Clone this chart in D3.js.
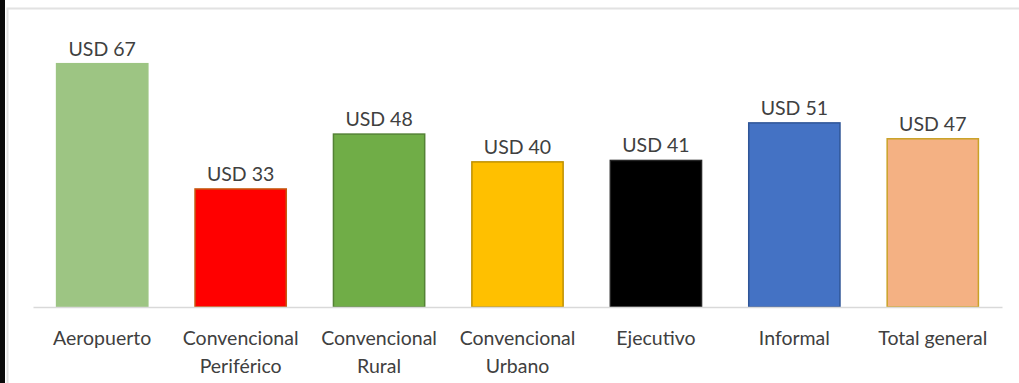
<!DOCTYPE html>
<html>
<head>
<meta charset="utf-8">
<script src="https://cdn.jsdelivr.net/npm/d3@7"></script>
<style>
  html, body { margin: 0; padding: 0; background: #fff; }
  svg { display: block; }
  text { font-family: Lato, "Open Sans", sans-serif; fill: #404040; }
</style>
</head>
<body>
<div id="chart"></div>
<script>
const categories = ['Aeropuerto', 'Convencional Periférico', 'Convencional Rural', 'Convencional Urbano', 'Ejecutivo', 'Informal', 'Total general'];
const values = [67.4, 32.7, 47.9, 40.2, 40.6, 51.0, 46.6];
const fills = ['#9DC583', '#FF0000', '#70AD47', '#FFC000', '#000000', '#4472C4', '#F4B183'];
const strokes = ['#9DC583', '#C55A11', '#548235', '#BF9000', '#262626', '#2F5597', '#C9A227'];

const width = 1019;
const height = 383;
const margin = { left: 33, right: 17, baseline: 307 };
const fontSize = '19.5px';

const svg = d3.select('#chart')
  .append('svg')
  .attr('width', width)
  .attr('height', height);

// left dark edge and chart frame
svg.append('rect')
  .attr('x', 0).attr('y', 0)
  .attr('width', 5).attr('height', height)
  .attr('fill', '#0a0a0a');

svg.append('rect')
  .attr('x', 7.5).attr('y', 8.5)
  .attr('width', width + 20).attr('height', height + 20)
  .attr('fill', 'none')
  .attr('stroke', '#e2e2e2')
  .attr('stroke-width', 2);

const xScale = d3.scaleBand()
  .domain(categories)
  .range([margin.left, width - margin.right])
  .paddingInner(0.33)
  .paddingOuter(0.165);

const yScale = d3.scaleLinear()
  .domain([0, 70])
  .range([margin.baseline, margin.baseline - 70 * 3.61]);

const data = categories.map((c, i) => ({ name: c, value: values[i], fill: fills[i], stroke: strokes[i] }));

svg.selectAll('.bar')
  .data(data)
  .enter()
  .append('rect')
  .attr('class', 'bar')
  .attr('x', d => xScale(d.name) + 0.75)
  .attr('y', d => yScale(d.value))
  .attr('width', xScale.bandwidth() - 1.5)
  .attr('height', d => yScale(0) - yScale(d.value))
  .attr('fill', d => d.fill)
  .attr('stroke', d => d.stroke)
  .attr('stroke-width', 1.5);

svg.selectAll('.label')
  .data(data)
  .enter()
  .append('text')
  .attr('class', 'label')
  .attr('x', d => xScale(d.name) + xScale.bandwidth() / 2)
  .attr('y', d => yScale(d.value) - 8)
  .attr('text-anchor', 'middle')
  .style('font-size', fontSize)
  .text(d => 'USD ' + Math.round(d.value));

const xAxis = d3.axisBottom(xScale).tickSize(0).tickPadding(0);

const axis = svg.append('g')
  .attr('transform', 'translate(0,' + margin.baseline + ')')
  .call(xAxis);

axis.select('.domain').attr('stroke', '#d9d9d9').attr('stroke-width', 1.5);

axis.selectAll('.tick text').each(function (d) {
  const t = d3.select(this);
  const lines = d.startsWith('Convencional') ? d.split(' ') : [d];
  t.text(null)
    .attr('y', 0)
    .attr('dy', null)
    .style('font-size', fontSize)
    .style('font-family', 'Lato, "Open Sans", sans-serif')
    .attr('fill', '#404040');
  lines.forEach((w, i) => {
    t.append('tspan')
      .attr('x', 0)
      .attr('y', 38 + i * 28)
      .text(w);
  });
});
</script>
</body>
</html>
